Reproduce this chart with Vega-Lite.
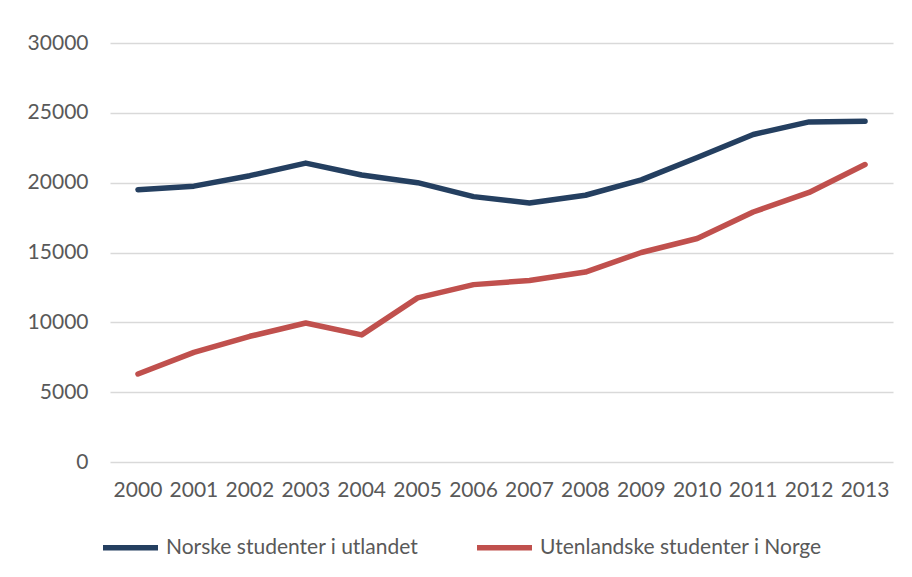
{
  "$schema": "https://vega.github.io/schema/vega-lite/v6.json",
  "autosize": "none",
  "width": 783,
  "height": 419,
  "padding": {"left": 110, "top": 43, "right": 19, "bottom": 115},
  "background": "white",
  "config": {
    "view": {"stroke": null},
    "font": "Lato",
    "axis": {"labelFont": "Lato", "labelFontSize": 21, "labelColor": "#595959"},
    "legend": {"labelFont": "Lato", "labelFontSize": 21, "labelColor": "#595959", "labelLimit": 0}
  },
  "data": {
    "values": [
      {"year": "2000", "series": "Norske studenter i utlandet", "value": 19500},
      {"year": "2001", "series": "Norske studenter i utlandet", "value": 19750},
      {"year": "2002", "series": "Norske studenter i utlandet", "value": 20500},
      {"year": "2003", "series": "Norske studenter i utlandet", "value": 21400},
      {"year": "2004", "series": "Norske studenter i utlandet", "value": 20550},
      {"year": "2005", "series": "Norske studenter i utlandet", "value": 20000},
      {"year": "2006", "series": "Norske studenter i utlandet", "value": 19000},
      {"year": "2007", "series": "Norske studenter i utlandet", "value": 18550},
      {"year": "2008", "series": "Norske studenter i utlandet", "value": 19100},
      {"year": "2009", "series": "Norske studenter i utlandet", "value": 20200},
      {"year": "2010", "series": "Norske studenter i utlandet", "value": 21800},
      {"year": "2011", "series": "Norske studenter i utlandet", "value": 23450},
      {"year": "2012", "series": "Norske studenter i utlandet", "value": 24350},
      {"year": "2013", "series": "Norske studenter i utlandet", "value": 24400},
      {"year": "2000", "series": "Utenlandske studenter i Norge", "value": 6300},
      {"year": "2001", "series": "Utenlandske studenter i Norge", "value": 7850},
      {"year": "2002", "series": "Utenlandske studenter i Norge", "value": 9000},
      {"year": "2003", "series": "Utenlandske studenter i Norge", "value": 9950},
      {"year": "2004", "series": "Utenlandske studenter i Norge", "value": 9100},
      {"year": "2005", "series": "Utenlandske studenter i Norge", "value": 11750},
      {"year": "2006", "series": "Utenlandske studenter i Norge", "value": 12700},
      {"year": "2007", "series": "Utenlandske studenter i Norge", "value": 13000},
      {"year": "2008", "series": "Utenlandske studenter i Norge", "value": 13600},
      {"year": "2009", "series": "Utenlandske studenter i Norge", "value": 15000},
      {"year": "2010", "series": "Utenlandske studenter i Norge", "value": 16000},
      {"year": "2011", "series": "Utenlandske studenter i Norge", "value": 17900},
      {"year": "2012", "series": "Utenlandske studenter i Norge", "value": 19300},
      {"year": "2013", "series": "Utenlandske studenter i Norge", "value": 21300}
    ]
  },
  "mark": {"type": "line", "strokeWidth": 5.5, "strokeCap": "round", "strokeJoin": "round"},
  "encoding": {
    "x": {
      "field": "year", "type": "ordinal",
      "scale": {"type": "band", "paddingInner": 0, "paddingOuter": 0},
      "axis": {"title": null, "labelAngle": 0, "domain": false, "ticks": false, "grid": false, "labelPadding": 17}
    },
    "y": {
      "field": "value", "type": "quantitative",
      "scale": {"domain": [0, 30000], "nice": false},
      "axis": {"title": null, "values": [0, 5000, 10000, 15000, 20000, 25000, 30000], "format": "d", "domain": false, "ticks": false, "labelPadding": 22, "gridColor": "#D9D9D9", "gridWidth": 1.5}
    },
    "color": {
      "field": "series", "type": "nominal",
      "scale": {"domain": ["Norske studenter i utlandet", "Utenlandske studenter i Norge"], "range": ["#243F60", "#C0504D"]},
      "legend": {
        "title": null, "orient": "none", "legendX": -10, "legendY": 474,
        "direction": "horizontal", "columns": 2, "columnPadding": 47,
        "symbolType": "stroke", "symbolSize": 3025, "symbolStrokeWidth": 5.5, "labelOffset": 5
      }
    }
  }
}
